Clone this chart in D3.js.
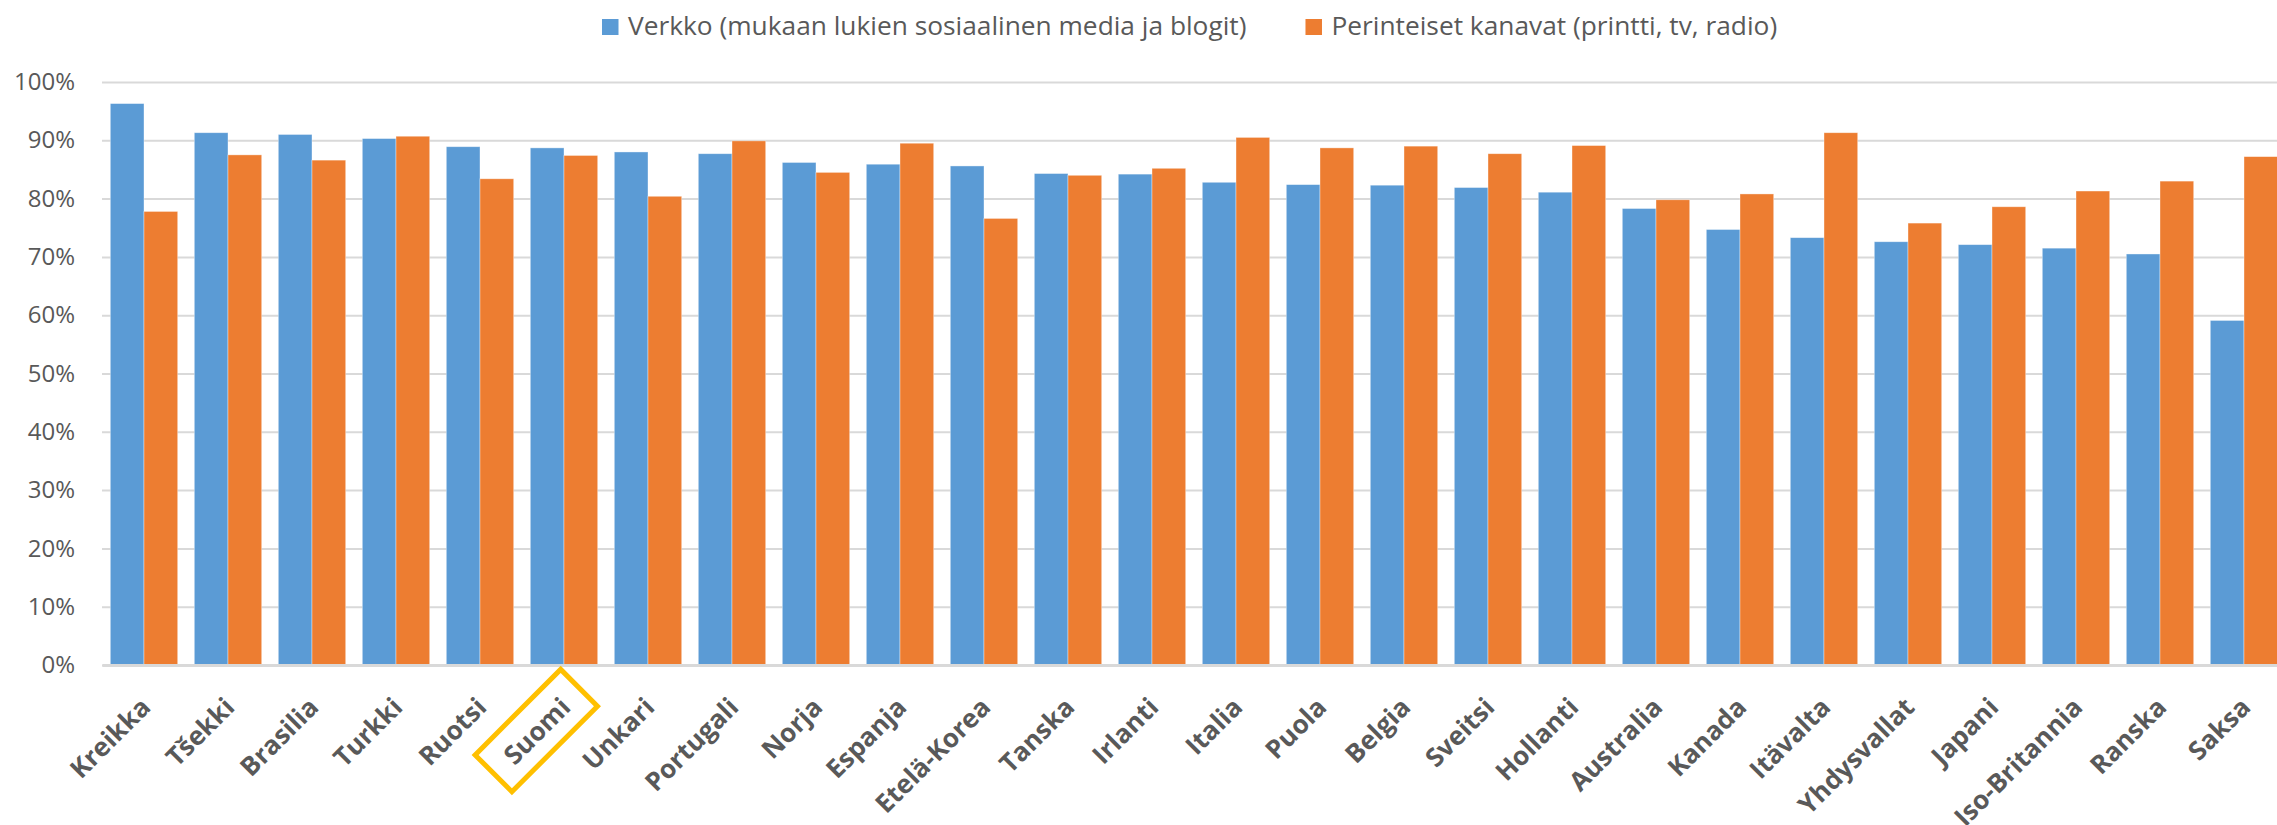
<!DOCTYPE html>
<html>
<head>
<meta charset="utf-8">
<script src="https://cdn.jsdelivr.net/npm/d3@7"></script>
<style>
  body { margin: 0; background: #fff; }
  svg text { font-family: "Open Sans", "Noto Sans", sans-serif; fill: #595959; }
</style>
</head>
<body>
<svg id="chart" width="2277" height="825"></svg>
<script>
const maat = ["Kreikka", "Tšekki", "Brasilia", "Turkki", "Ruotsi", "Suomi", "Unkari", "Portugali", "Norja", "Espanja",
    "Etelä-Korea", "Tanska", "Irlanti", "Italia", "Puola", "Belgia", "Sveitsi", "Hollanti", "Australia", "Kanada",
    "Itävalta", "Yhdysvallat", "Japani", "Iso-Britannia", "Ranska", "Saksa"];
const verkko = [96.3, 91.3, 91.0, 90.3, 88.9, 88.7, 88.0, 87.7, 86.2, 85.9, 85.6, 84.3, 84.2, 82.8, 82.4, 82.3, 81.9,
    81.1, 78.3, 74.7, 73.3, 72.6, 72.1, 71.5, 70.5, 59.1];
const perinteiset = [77.8, 87.5, 86.6, 90.7, 83.4, 87.4, 80.4, 89.9, 84.5, 89.5, 76.6, 84.0, 85.2, 90.5, 88.7, 89.0,
    87.7, 89.1, 79.8, 80.8, 91.3, 75.8, 78.6, 81.3, 83.0, 87.2];
const sarjat = ["Verkko (mukaan lukien sosiaalinen media ja blogit)", "Perinteiset kanavat (printti, tv, radio)"];
const yTicks = [0, 10, 20, 30, 40, 50, 60, 70, 80, 90, 100];
const korostettu = "Suomi";

const colors = ["#5B9BD5", "#ED7D31"];

const data = maat.map((m, i) => ({maa: m, arvot: [verkko[i], perinteiset[i]]}));

const svg = d3.select("#chart");
const plotLeft = 102, plotRight = 2286, plotTop = 82, plotBottom = 665;

const x0 = d3.scaleBand().domain(maat).range([plotLeft, plotRight]);
const x1 = d3.scaleBand().domain([0, 1]).range([0, x0.bandwidth()]).paddingOuter(0.246);
const y = d3.scaleLinear().domain([0, 100]).range([plotBottom, plotTop]);

// gridlines + y labels
const yAxis = svg.append("g")
    .attr("transform", `translate(${plotLeft},0)`)
    .call(d3.axisLeft(y).tickValues(yTicks).tickSize(-(plotRight - plotLeft)).tickPadding(27).tickFormat(d => d + "%"));
yAxis.select(".domain").remove();
yAxis.selectAll(".tick line").attr("stroke", "#D9D9D9").attr("stroke-width", 2);
yAxis.selectAll(".tick text").attr("font-size", 24).attr("fill", "#595959");

// bars
const groups = svg.append("g").selectAll("g")
    .data(data)
    .enter().append("g")
    .attr("transform", d => `translate(${x0(d.maa)},0)`);

groups.selectAll("rect")
    .data(d => d.arvot)
    .enter().append("rect")
    .attr("x", (d, i) => x1(i))
    .attr("y", d => y(d))
    .attr("width", x1.bandwidth())
    .attr("height", d => plotBottom - y(d))
    .attr("fill", (d, i) => colors[i])
    .attr("stroke", "#fff")
    .attr("stroke-opacity", 0.5)
    .attr("stroke-width", 0.75);

// x axis
const xAxis = svg.append("g")
    .attr("transform", `translate(0,${plotBottom})`)
    .call(d3.axisBottom(x0).tickSize(0).tickSizeOuter(0));
xAxis.select(".domain").attr("stroke", "#D9D9D9").attr("stroke-width", 3);
xAxis.selectAll(".tick text")
    .attr("font-size", 26)
    .attr("font-weight", "bold")
    .attr("fill", "#595959")
    .attr("text-anchor", "end")
    .attr("y", 0)
    .attr("dy", 0)
    .attr("transform", "translate(8,44) rotate(-45)");

// Suomi korostus
xAxis.selectAll(".tick").filter(d => d === korostettu).each(function() {
    const t = d3.select(this).select("text");
    const b = t.node().getBBox();
    d3.select(this).insert("rect", "text")
        .attr("x", b.x - 20)
        .attr("y", b.y - 8)
        .attr("width", b.width + 40)
        .attr("height", b.height + 16)
        .attr("transform", t.attr("transform"))
        .attr("fill", "none")
        .attr("stroke", "#FFC000")
        .attr("stroke-width", 5);
});

// legend
const legend = svg.append("g").attr("transform", "translate(0,35)");
let lx = 602;
sarjat.forEach((s, i) => {
    legend.append("rect")
        .attr("x", lx).attr("y", -16)
        .attr("width", 16.5).attr("height", 16)
        .attr("fill", colors[i]);
    const t = legend.append("text")
        .attr("x", lx + 26).attr("y", 0)
        .attr("font-size", 26.3)
        .text(s);
    lx = lx + 26 + t.node().getComputedTextLength() + 59;
});
</script>
</body>
</html>
